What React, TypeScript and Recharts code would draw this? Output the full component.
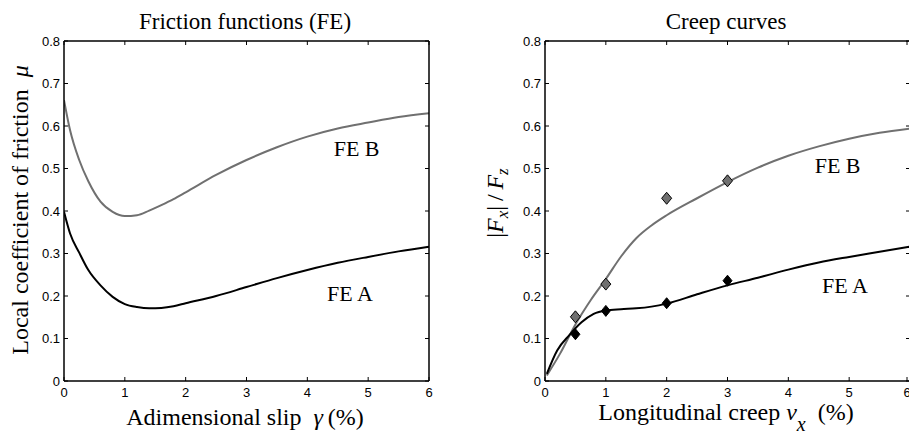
import React from "react";
import { ComposedChart, Line, Scatter, XAxis, YAxis, ReferenceDot } from "recharts";

// Friction functions (left)
const slipX = [0, 0.1, 0.25, 0.4, 0.6, 0.8, 1.0, 1.2, 1.4, 1.6, 1.8, 2.0, 2.5, 3.0, 3.5, 4.0, 4.5, 5.0, 5.5, 6.0];
const frictionA = [0.398, 0.347, 0.302, 0.261, 0.225, 0.198, 0.181, 0.174, 0.171, 0.172, 0.176, 0.183, 0.2, 0.221, 0.242, 0.261, 0.278, 0.292, 0.305, 0.316];
const frictionB = [0.661, 0.59, 0.52, 0.47, 0.422, 0.398, 0.388, 0.39, 0.401, 0.414, 0.428, 0.444, 0.485, 0.52, 0.55, 0.575, 0.594, 0.608, 0.621, 0.63];

// Creep curves (right)
const creepXA = [0.03, 0.2, 0.4, 0.6, 0.8, 1.0, 1.25, 1.5, 1.75, 2.0, 2.5, 3.0, 3.5, 4.0, 4.5, 5.0, 5.5, 6.0];
const creepA = [0.017, 0.072, 0.108, 0.138, 0.158, 0.166, 0.169, 0.171, 0.175, 0.182, 0.204, 0.225, 0.243, 0.262, 0.279, 0.292, 0.304, 0.316];
const creepXB = [0.03, 0.25, 0.5, 0.75, 1.0, 1.25, 1.5, 1.75, 2.0, 2.5, 3.0, 3.5, 4.0, 4.5, 5.0, 5.5, 6.0];
const creepB = [0.013, 0.065, 0.133, 0.19, 0.24, 0.293, 0.336, 0.366, 0.39, 0.43, 0.468, 0.502, 0.53, 0.552, 0.57, 0.584, 0.594];

// measured points
const testX = [0.5, 1, 2, 3];
const testA = [0.11, 0.165, 0.183, 0.236];
const testB = [0.151, 0.228, 0.43, 0.471];

const xTicks = [0, 1, 2, 3, 4, 5, 6];
const yTicks = [0, 0.1, 0.2, 0.3, 0.4, 0.5, 0.6, 0.7, 0.8];

const GRAY = "#707070";
const SERIF = "'Liberation Serif', 'Times New Roman', serif";
const SANS = "'Liberation Sans', Arial, sans-serif";
const TICK = 4;

const toPoints = (xs: number[], ys: number[]) => xs.map((x, i) => ({ x, y: ys[i] }));

function BottomTick({ x, y, payload }: any) {
  return (
    <g>
      <line x1={x} y1={y} x2={x} y2={y - TICK} stroke="#000" />
      <text x={x} y={y + 16} textAnchor="middle" fontSize={13} fontFamily={SANS} fill="#000">
        {payload.value}
      </text>
    </g>
  );
}

function LeftTick({ x, y, payload }: any) {
  return (
    <g>
      <line x1={x} y1={y} x2={x + TICK} y2={y} stroke="#000" />
      <text x={x - 4} y={y + 4.5} textAnchor="end" fontSize={13} fontFamily={SANS} fill="#000">
        {payload.value}
      </text>
    </g>
  );
}

function TopTick({ x, y }: any) {
  return <line x1={x} y1={y} x2={x} y2={y + TICK} stroke="#000" />;
}

function RightTick({ x, y }: any) {
  return <line x1={x} y1={y} x2={x - TICK} y2={y} stroke="#000" />;
}

function diamond(fill: string, w: number, h: number) {
  return (p: any) => (
    <polygon
      points={`${p.cx},${p.cy - h} ${p.cx + w},${p.cy} ${p.cx},${p.cy + h} ${p.cx - w},${p.cy}`}
      fill={fill}
      stroke="#000"
      strokeWidth={1}
    />
  );
}

// axes need a non-zero size to be drawn, so each one gets 1px
function Frame() {
  const axisLine = { stroke: "#000", strokeWidth: 1.5 };
  return [
    <XAxis key="b" xAxisId="b" type="number" dataKey="x" domain={[0, 6]} ticks={xTicks} height={1}
      tickSize={0} tickMargin={0} tickLine={false} axisLine={axisLine} tick={<BottomTick />} allowDataOverflow />,
    <XAxis key="t" xAxisId="t" orientation="top" type="number" dataKey="x" domain={[0, 6]} ticks={xTicks} height={1}
      tickSize={0} tickMargin={0} tickLine={false} axisLine={axisLine} tick={<TopTick />} allowDataOverflow />,
    <YAxis key="l" yAxisId="l" type="number" domain={[0, 0.8]} ticks={yTicks} width={1}
      tickSize={0} tickMargin={0} tickLine={false} axisLine={axisLine} tick={<LeftTick />} allowDataOverflow />,
    <YAxis key="r" yAxisId="r" orientation="right" type="number" domain={[0, 0.8]} ticks={yTicks} width={1}
      tickSize={0} tickMargin={0} tickLine={false} axisLine={axisLine} tick={<RightTick />} allowDataOverflow />,
  ];
}

const annot = (value: string) => ({ value, position: "center" as const, fontSize: 22, fontFamily: SERIF, fill: "#000" });

function label(style: React.CSSProperties, content: React.ReactNode) {
  return (
    <div style={{ position: "absolute", whiteSpace: "nowrap", fontFamily: SERIF, color: "#000", lineHeight: 1, ...style }}>
      {content}
    </div>
  );
}

export default function App() {
  return (
    <div style={{ position: "absolute", left: 0, top: 0, width: 909, height: 438, overflow: "hidden", background: "#fff" }}>
      <div style={{ position: "absolute", left: 0, top: 0 }}>
        <ComposedChart width={460} height={438} margin={{ top: 40, right: 30, bottom: 56, left: 63 }}>
          {Frame()}
          <Line xAxisId="b" yAxisId="l" data={toPoints(slipX, frictionB)} dataKey="y" type="monotone"
            stroke={GRAY} strokeWidth={2} dot={false} isAnimationActive={false} />
          <Line xAxisId="b" yAxisId="l" data={toPoints(slipX, frictionA)} dataKey="y" type="monotone"
            stroke="#000" strokeWidth={2} dot={false} isAnimationActive={false} />
          <ReferenceDot xAxisId="b" yAxisId="l" x={4.81} y={0.548} r={0} label={annot("FE B")} />
          <ReferenceDot xAxisId="b" yAxisId="l" x={4.7} y={0.207} r={0} label={annot("FE A")} />
        </ComposedChart>
      </div>
      <div style={{ position: "absolute", left: 460, top: 0 }}>
        <ComposedChart width={451} height={438} margin={{ top: 40, right: 0, bottom: 56, left: 84 }}>
          {Frame()}
          <Line xAxisId="b" yAxisId="l" data={toPoints(creepXB, creepB)} dataKey="y" type="monotone"
            stroke={GRAY} strokeWidth={2} dot={false} isAnimationActive={false} />
          <Line xAxisId="b" yAxisId="l" data={toPoints(creepXA, creepA)} dataKey="y" type="monotone"
            stroke="#000" strokeWidth={2} dot={false} isAnimationActive={false} />
          <Scatter xAxisId="b" yAxisId="l" data={toPoints(testX, testB)} dataKey="y"
            shape={diamond(GRAY, 5, 6)} isAnimationActive={false} />
          <Scatter xAxisId="b" yAxisId="l" data={toPoints(testX, testA)} dataKey="y"
            shape={diamond("#000", 4.5, 5.5)} isAnimationActive={false} />
          <ReferenceDot xAxisId="b" yAxisId="l" x={4.81} y={0.508} r={0} label={annot("FE B")} />
          <ReferenceDot xAxisId="b" yAxisId="l" x={4.93} y={0.226} r={0} label={annot("FE A")} />
        </ComposedChart>
      </div>

      {label({ left: 245, top: 21, transform: "translate(-50%, -50%)", fontSize: 23 }, "Friction functions (FE)")}
      {label({ left: 726, top: 21, transform: "translate(-50%, -50%)", fontSize: 23 }, "Creep curves")}

      {label({ left: 245, top: 417, transform: "translate(-50%, -50%)", fontSize: 24 }, (
        <>Adimensional slip&nbsp; <i>γ</i>&thinsp;(%)</>
      ))}
      {label({ left: 726, top: 417, transform: "translate(-50%, -50%)", fontSize: 24 }, (
        <>Longitudinal creep <i>ν</i><sub style={{ fontSize: 20, verticalAlign: "-0.55em" }}><i>x</i></sub>&nbsp; (%)</>
      ))}

      {label({ left: 20, top: 210, transform: "translate(-50%, -50%) rotate(-90deg)", fontSize: 24 }, (
        <>Local coefficient of friction&nbsp; <i>μ</i></>
      ))}
      {label({ left: 497, top: 203, transform: "translate(-50%, -50%) rotate(-90deg)", fontSize: 24 }, (
        <>|<i>F</i><sub style={{ fontSize: 17 }}><i>x</i></sub>|&thinsp;/&thinsp;<i>F</i><sub style={{ fontSize: 17 }}><i>z</i></sub></>
      ))}
    </div>
  );
}
